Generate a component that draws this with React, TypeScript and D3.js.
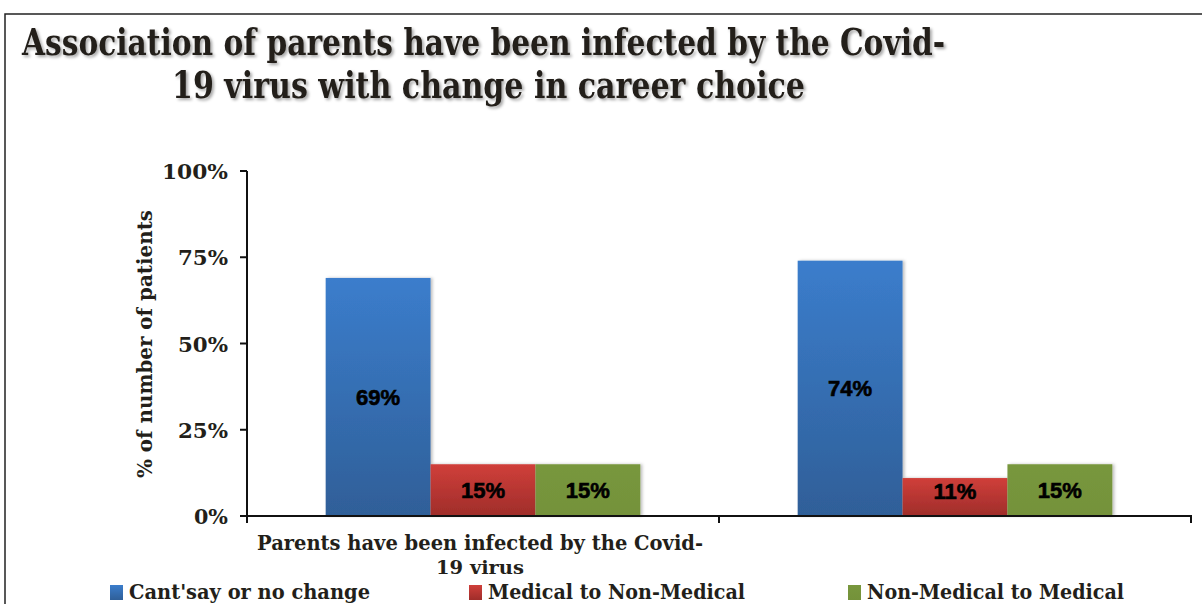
import React from "react";
import * as d3 from "d3";

const categories = ["Parents have been infected by the Covid-19 virus", "Parents have not been infected"];
const categoryLabelLines = [["Parents have been infected by the Covid-", "19 virus"], []];
const seriesNames = ["Cant'say or no change", "Medical to Non-Medical", "Non-Medical to Medical"];
const cantSay = [69, 74];
const medicalToNon = [15, 11];
const nonToMedical = [15, 15];
const yTicks = [0, 25, 50, 75, 100];

const W = 1202, H = 604;
const serif = "'DejaVu Serif', 'Liberation Serif', serif";
const sans = "'Liberation Sans', Arial, sans-serif";

const grads = [
  { id: "gBlue", top: "#3b7dcc", bottom: "#2f5f98" },
  { id: "gRed", top: "#d03f3a", bottom: "#9f2d2a" },
  { id: "gGreen", top: "#78973d", bottom: "#74923a" },
];

export default function App() {
  const left = 247, right = 1191, y0 = 516, y100 = 171;
  const y = d3.scaleLinear().domain([0, 100]).range([y0, y100]);
  const x0 = d3.scaleBand<number>().domain(categories.map((_, i) => i)).range([left, right]).padding(0);
  const bw = x0.bandwidth();
  const gap = (bw * 1.5) / 4.5;
  const x1 = d3.scaleBand<number>().domain([0, 1, 2]).range([gap / 2, bw - gap / 2]).padding(0);
  const series = [cantSay, medicalToNon, nonToMedical];

  return (
    <svg width={W} height={H} style={{ position: "absolute", left: 0, top: 0, background: "#fff" }}>
      <defs>
        {grads.map((g) => (
          <linearGradient key={g.id} id={g.id} x1="0" y1="0" x2="0" y2="1">
            <stop offset="0" stopColor={g.top} />
            <stop offset="1" stopColor={g.bottom} />
          </linearGradient>
        ))}
        <filter id="shadow" x="-10%" y="-10%" width="130%" height="120%">
          <feDropShadow dx="2" dy="0" stdDeviation="1.5" floodColor="#000" floodOpacity="0.25" />
        </filter>
      </defs>
      <rect x={5} y={14} width={1250} height={650} fill="none" stroke="#222" strokeWidth={1.5} />
      <g fontFamily={serif} fontWeight="bold" fill="#231f1a">
        <text x={22} y={55} fontSize={37} textLength={923} lengthAdjust="spacingAndGlyphs"
          style={{ filter: "drop-shadow(2px 2px 1.5px rgba(0,0,0,0.35))" }}>
          Association of parents have been infected by the Covid-
        </text>
        <text x={172} y={98} fontSize={37} textLength={633} lengthAdjust="spacingAndGlyphs"
          style={{ filter: "drop-shadow(2px 2px 1.5px rgba(0,0,0,0.35))" }}>
          19 virus with change in career choice
        </text>
      </g>
      {/* y axis */}
      <line x1={left} x2={left} y1={y100} y2={y0 + 6} stroke="#111" strokeWidth={2} />
      {yTicks.map((t) => (
        <g key={t}>
          <line x1={left - 7} x2={left} y1={y(t)} y2={y(t)} stroke="#111" strokeWidth={2} />
          <text x={228} y={y(t) + 8} textAnchor="end" fontFamily={serif} fontWeight="bold" fontSize={20}
            fill="#231f1a" textLength={t === 100 ? 66 : t === 0 ? 34 : 50} lengthAdjust="spacingAndGlyphs">
            {t}%
          </text>
        </g>
      ))}
      <text transform={`translate(152,344) rotate(-90)`} textAnchor="middle" fontFamily={serif}
        fontWeight="bold" fontSize={20} fill="#231f1a" textLength={268} lengthAdjust="spacingAndGlyphs">
        % of number of patients
      </text>
      {/* bars */}
      {categories.map((_, ci) => (
        <g key={ci} transform={`translate(${x0(ci)},0)`}>
          {series.map((vals, si) => (
            <rect key={si} x={x1(si)} y={y(vals[ci])} width={x1.bandwidth()} height={y0 - y(vals[ci])}
              fill={`url(#${grads[si].id})`} filter="url(#shadow)" />
          ))}
          {series.map((vals, si) => (
            <text key={"l" + si} x={(x1(si) as number) + x1.bandwidth() / 2}
              y={Math.min((y(vals[ci]) + y0) / 2, y0 - 25) + 8} textAnchor="middle" fontFamily={sans}
              fontWeight="bold" fontSize={22} fill="#000" stroke="#000" strokeWidth={0.6}>
              {vals[ci]}%
            </text>
          ))}
        </g>
      ))}
      {/* x axis */}
      <line x1={left - 7} x2={right + 1} y1={y0} y2={y0} stroke="#111" strokeWidth={2} />
      {[0, 1, 2].map((i) => (
        <line key={i} x1={left + i * bw} x2={left + i * bw} y1={y0} y2={y0 + 7} stroke="#111" strokeWidth={2} />
      ))}
      {categories.map((_, ci) =>
        categoryLabelLines[ci].map((ln, li) => (
          <text key={ci + "-" + li} x={(x0(ci) as number) + bw / 2 - 3} y={550 + li * 24} textAnchor="middle"
            fontFamily={serif} fontWeight="bold" fontSize={li === 0 ? 20 : 19} fill="#231f1a"
            textLength={li === 0 ? 446 : 88} lengthAdjust="spacingAndGlyphs">
            {ln}
          </text>
        ))
      )}
      {/* legend */}
      {seriesNames.map((s, i) => {
        const lx = [110, 469, 848][i];
        const tl = [241, 257, 257][i];
        return (
          <g key={s}>
            <rect x={lx} y={585} width={13} height={15} fill={`url(#${grads[i].id})`} />
            <text x={lx + 19} y={599} fontFamily={serif} fontWeight="bold" fontSize={21} fill="#231f1a"
              textLength={tl} lengthAdjust="spacingAndGlyphs">
              {s}
            </text>
          </g>
        );
      })}
    </svg>
  );
}
